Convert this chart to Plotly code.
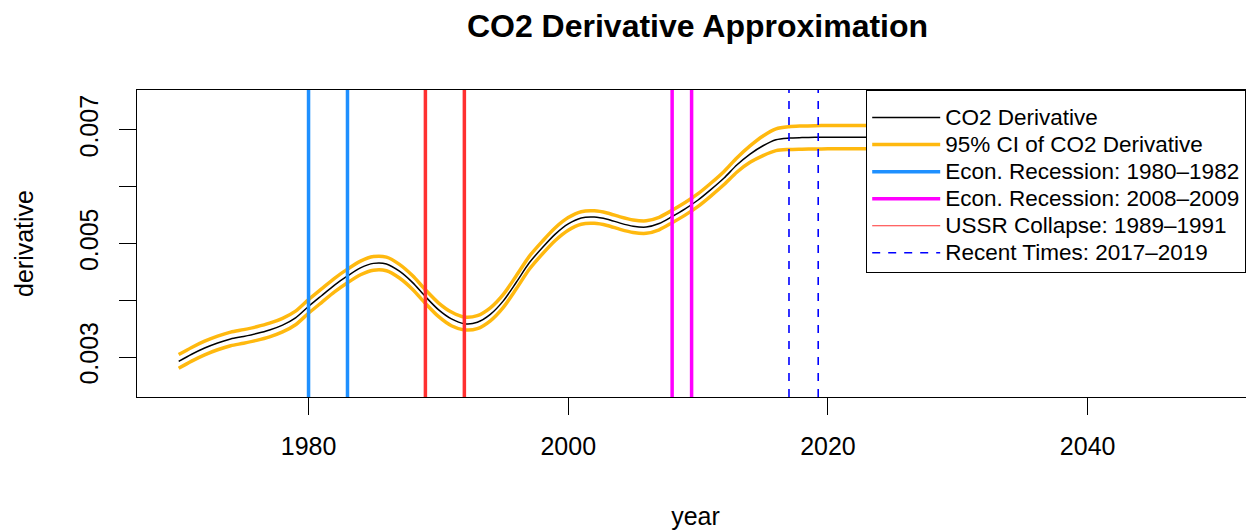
import plotly.graph_objects as go

# ---- data ----
years = [1970, 1971, 1972, 1973, 1974, 1975, 1976, 1977, 1978, 1979,
         1980, 1981, 1982, 1983, 1984, 1985, 1986, 1987, 1988, 1989,
         1990, 1991, 1992, 1993, 1994, 1995, 1996, 1997, 1998, 1999,
         2000, 2001, 2002, 2003, 2004, 2005, 2006, 2007, 2008, 2009,
         2010, 2011, 2012, 2013, 2014, 2015, 2016, 2017, 2018, 2019,
         2020, 2021, 2022, 2023, 2025, 2030, 2035, 2040, 2045, 2050]

derivative = [0.002923, 0.003049, 0.003159, 0.003248, 0.003318, 0.003363, 0.003413, 0.003476, 0.003562, 0.003689,
              0.003891, 0.004080, 0.004267, 0.004428, 0.004570, 0.004650, 0.004640, 0.004512, 0.004315, 0.004065,
              0.003835, 0.003672, 0.003588, 0.003612, 0.003751, 0.003989, 0.004317, 0.004660, 0.004925, 0.005165,
              0.005345, 0.005450, 0.005465, 0.005428, 0.005359, 0.005305, 0.005290, 0.005352, 0.005476, 0.005611,
              0.005766, 0.005953, 0.006154, 0.006386, 0.006575, 0.006722, 0.006828, 0.006857, 0.006866, 0.006872,
              0.006873, 0.006873, 0.006873, 0.006873, 0.006873, 0.006873, 0.006873, 0.006873, 0.006873, 0.006873]

ci_upper = [0.003043, 0.003169, 0.003279, 0.003368, 0.003438, 0.003483, 0.003533, 0.003596, 0.003682, 0.003809,
            0.004011, 0.004200, 0.004387, 0.004548, 0.004690, 0.004770, 0.004760, 0.004632, 0.004435, 0.004185,
            0.003955, 0.003792, 0.003703, 0.003730, 0.003868, 0.004105, 0.004432, 0.004774, 0.005037, 0.005277,
            0.005456, 0.005560, 0.005575, 0.005538, 0.005469, 0.005415, 0.005400, 0.005462, 0.005586, 0.005722,
            0.005878, 0.006066, 0.006270, 0.006512, 0.006720, 0.006895, 0.007020, 0.007058, 0.007070, 0.007076,
            0.007078, 0.007078, 0.007078, 0.007078, 0.007078, 0.007078, 0.007078, 0.007078, 0.007078, 0.007078]

ci_lower = [0.002803, 0.002929, 0.003039, 0.003128, 0.003198, 0.003243, 0.003293, 0.003356, 0.003442, 0.003569,
            0.003771, 0.003960, 0.004147, 0.004308, 0.004450, 0.004530, 0.004520, 0.004392, 0.004195, 0.003945,
            0.003715, 0.003552, 0.003478, 0.003500, 0.003638, 0.003875, 0.004202, 0.004546, 0.004813, 0.005053,
            0.005234, 0.005340, 0.005355, 0.005318, 0.005249, 0.005195, 0.005180, 0.005242, 0.005366, 0.005500,
            0.005654, 0.005840, 0.006038, 0.006260, 0.006430, 0.006549, 0.006636, 0.006656, 0.006662, 0.006666,
            0.006667, 0.006667, 0.006667, 0.006667, 0.006667, 0.006667, 0.006667, 0.006667, 0.006667, 0.006667]

recession_1980s = [1980, 1983]
recession_2008 = [2008, 2009.5]
ussr_collapse = [1989, 1992]
recent_times = [2017, 2019.25]

x_ticks = [1980, 2000, 2020, 2040]
y_ticks = [0.003, 0.004, 0.005, 0.006, 0.007]
y_ticktext = ["0.003", "", "0.005", "", "0.007"]

X_RANGE = [1966.79, 2052.81]
Y_RANGE = [0.002296, 0.007704]

FONT = "Liberation Sans, Arial, Helvetica, sans-serif"

# the page body adds an 8px margin, so the figure is 8px smaller than the window
W, H = 1246, 523
PLOT_L, PLOT_W = 129, 1117


def vlines(xs):
    xx, yy = [], []
    for v in xs:
        xx += [v, v, None]
        yy += [Y_RANGE[0], Y_RANGE[1], None]
    return xx, yy


def lg(text):
    return '<span style="font-size:22.5px">' + text + '</span>'


fig = go.Figure()

fig.add_trace(go.Scatter(x=years, y=derivative, mode="lines", name=lg("CO2 Derivative"),
                         line=dict(color="black", width=1.5, shape="spline", smoothing=0.8),
                         legendrank=1))
fig.add_trace(go.Scatter(x=years, y=ci_upper, mode="lines", name=lg("95% CI of CO2 Derivative"),
                         legendgroup="ci",
                         line=dict(color="#FFB90F", width=3.5, shape="spline", smoothing=0.8),
                         legendrank=2))
fig.add_trace(go.Scatter(x=years, y=ci_lower, mode="lines", name="95% CI of CO2 Derivative",
                         legendgroup="ci", showlegend=False,
                         line=dict(color="#FFB90F", width=3.5, shape="spline", smoothing=0.8)))

xx, yy = vlines(recession_1980s)
fig.add_trace(go.Scatter(x=xx, y=yy, mode="lines", name=lg("Econ. Recession: 1980\u20131982"),
                         line=dict(color="#1E90FF", width=3.5), legendrank=3))
xx, yy = vlines(ussr_collapse)
fig.add_trace(go.Scatter(x=xx, y=yy, mode="lines", name="USSR Collapse: 1989\u20131991",
                         showlegend=False, line=dict(color="#FF3030", width=3.5)))
fig.add_trace(go.Scatter(x=[None], y=[None], mode="lines", name=lg("USSR Collapse: 1989\u20131991"),
                         line=dict(color="#FF3030", width=1.2), legendrank=5))
xx, yy = vlines(recession_2008)
fig.add_trace(go.Scatter(x=xx, y=yy, mode="lines", name=lg("Econ. Recession: 2008\u20132009"),
                         line=dict(color="#FF00FF", width=3.5), legendrank=4))
xx, yy = vlines(recent_times)
fig.add_trace(go.Scatter(x=xx, y=yy, mode="lines", name=lg("Recent Times: 2017\u20132019"),
                         line=dict(color="#0000FF", width=1.6, dash="8px,8px"), legendrank=6))

fig.update_layout(
    width=W, height=H,
    margin=dict(l=PLOT_L, r=0, t=82, b=134, autoexpand=False),
    paper_bgcolor="white", plot_bgcolor="white",
    font=dict(family=FONT, color="black", size=25),
    title=dict(text="<b>CO2 Derivative Approximation</b>", x=0.5018, xref="paper",
               y=1 - 18 / H, yref="container", xanchor="center", yanchor="middle",
               font=dict(size=32, family=FONT, color="black")),
    showlegend=True,
    legend=dict(x=(858 - PLOT_L) / PLOT_W, y=1, xanchor="left", yanchor="top",
                bgcolor="white", bordercolor="black", borderwidth=1.2,
                font=dict(size=18.5, family=FONT, color="black"),
                title=dict(text="\u00a0", font=dict(size=6)),
                itemwidth=68, traceorder="normal"),
    xaxis=dict(range=X_RANGE, tickvals=x_ticks, ticks="outside", ticklen=17, tickwidth=1.2,
               tickcolor="black", showgrid=False, zeroline=False, showline=True,
               linecolor="black", linewidth=1.2, mirror=True, ticklabelstandoff=10,
               automargin=False,
               tickfont=dict(size=25, family=FONT),
               title=dict(text="year", standoff=48, font=dict(size=25, family=FONT))),
    yaxis=dict(range=Y_RANGE, tickvals=y_ticks, ticktext=y_ticktext, ticks="outside", ticklen=17,
               tickwidth=1.2, tickcolor="black", showgrid=False, zeroline=False, showline=True,
               linecolor="black", linewidth=1.2, tickangle=-90, ticklabelstandoff=11,
               automargin=False,
               tickfont=dict(size=25, family=FONT),
               title=dict(text="derivative", standoff=34, font=dict(size=25, family=FONT))),
)

fig.write_html("out.html")
